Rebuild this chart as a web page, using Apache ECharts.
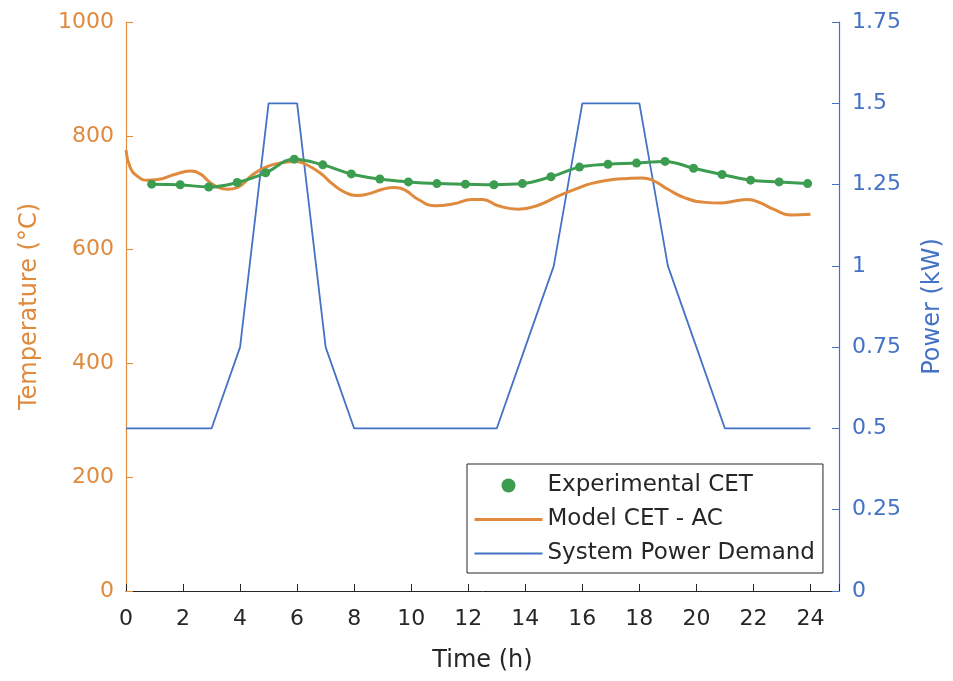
<!DOCTYPE html>
<html>
<head>
<meta charset="utf-8">
<script src="https://cdn.jsdelivr.net/npm/echarts@6/dist/echarts.min.js"></script>
<style>
html,body{margin:0;padding:0;background:#fff;}
#chart{width:953px;height:681px;}
</style>
</head>
<body>
<div id="chart"></div>
<script>
// Experimental CET (°C) sampled hourly
const expTime = [0.9,1.9,2.9,3.9,4.9,5.9,6.9,7.9,8.9,9.9,10.9,11.9,12.9,13.9,14.9,15.9,16.9,17.9,18.9,19.9,20.9,21.9,22.9,23.9];
const expTemp = [715,714,710,718,735,759,749,733,724,719,716,715,714,716,728,745,750,752,755,743,732,722,719,716];

// Model CET - AC (°C)
const modelTime = [0,0.15,0.4,0.75,1.1,1.7,2.25,2.6,2.9,3.2,3.55,3.9,4.45,4.9,5.5,5.95,6.3,6.8,7.25,7.7,8.1,8.5,9.0,9.4,9.8,10.25,10.85,11.45,12.15,12.5,13.05,13.75,14.45,15.15,15.85,16.3,16.9,17.6,18.1,18.5,19.0,19.6,20.3,20.85,21.3,21.8,22.25,22.7,23.3,24.0];
const modelTemp = [775,744,729,722,723,732,738,733,720,710,706,709,732,745,753,755,750,735,715,700,695,698,706,709,704,688,677,680,688,688,677,671,678,694,708,716,722,725,726,721,706,691,683,682,685,688,682,671,661,662];

// System power demand (kW)
const powerTime = [0,1,2,3,4,5,6,7,8,9,10,11,12,13,14,15,16,17,18,19,20,21,22,23,24];
const powerKW   = [0.5,0.5,0.5,0.5,0.75,1.5,1.5,0.75,0.5,0.5,0.5,0.5,0.5,0.5,0.75,1.0,1.5,1.5,1.5,1.0,0.75,0.5,0.5,0.5,0.5];

const seriesNames = ['Experimental CET','Model CET - AC','System Power Demand'];

const ORANGE = '#E08A3E';
const BLUE = '#4472C4';
const GREEN = '#3C9C4F';
const DARK = '#262626';
const FONT = 'DejaVu Sans';

const zip = (a,b) => a.map((v,i)=>[v,b[i]]);

const chart = echarts.init(document.getElementById('chart'), null, {renderer:'canvas'});
chart.setOption({
  animation:false,
  backgroundColor:'#fff',
  textStyle:{fontFamily:FONT},
  grid:{left:126,right:114,top:22,bottom:90,containLabel:false},
  legend:{
    orient:'vertical',
    left:467, top:464,
    backgroundColor:'#fff',
    borderColor:DARK, borderWidth:1,
    padding:[10,8,8,6],
    itemGap:11,
    itemWidth:68, itemHeight:14,
    textStyle:{fontSize:23,color:DARK,fontFamily:FONT},
    data:[
      {name:seriesNames[0], icon:'circle', lineStyle:{opacity:0}},
      {name:seriesNames[1], itemStyle:{opacity:0}, lineStyle:{width:3}},
      {name:seriesNames[2], itemStyle:{opacity:0}, lineStyle:{width:1.8}}
    ]
  },
  xAxis:{
    type:'value', min:0, max:25, interval:2,
    name:'Time (h)', nameLocation:'middle', nameGap:58,
    nameTextStyle:{fontSize:24,color:DARK,fontFamily:FONT},
    axisLine:{show:true,lineStyle:{color:DARK,width:1}},
    axisTick:{show:true,inside:true,length:7,lineStyle:{color:DARK}},
    axisLabel:{fontSize:22,color:DARK,margin:17,fontFamily:FONT,
      formatter:(v)=> v===25 ? '' : String(v)},
    splitLine:{show:false}
  },
  yAxis:[
    {
      type:'value', min:0, max:1000, interval:200, position:'left',
      name:'Temperature (°C)', nameLocation:'middle', nameGap:84, nameRotate:90,
      nameTextStyle:{fontSize:24,color:ORANGE,fontFamily:FONT},
      axisLine:{show:true,lineStyle:{color:ORANGE,width:1.2}},
      axisTick:{show:true,inside:true,length:7,lineStyle:{color:ORANGE}},
      axisLabel:{fontSize:22,color:ORANGE,margin:12,fontFamily:FONT,
        formatter:(v)=> String(v)},
      splitLine:{show:false}
    },
    {
      type:'value', min:0, max:1.75, interval:0.25, position:'right',
      name:'Power (kW)', nameLocation:'middle', nameGap:82, nameRotate:90,
      nameTextStyle:{fontSize:24,color:BLUE,fontFamily:FONT},
      axisLine:{show:true,lineStyle:{color:BLUE,width:1.2}},
      axisTick:{show:true,inside:true,length:7,lineStyle:{color:BLUE}},
      axisLabel:{fontSize:22,color:BLUE,margin:13,fontFamily:FONT,
        formatter:(v)=> String(parseFloat(v.toFixed(2)))},
      splitLine:{show:false}
    }
  ],
  series:[
    {
      name:seriesNames[2], type:'line', yAxisIndex:1,
      data:zip(powerTime,powerKW),
      showSymbol:false, symbol:'none', smooth:false,
      lineStyle:{color:BLUE,width:1.8},
      itemStyle:{color:BLUE},
      z:2
    },
    {
      name:seriesNames[1], type:'line', yAxisIndex:0,
      data:zip(modelTime,modelTemp),
      showSymbol:false, symbol:'none', smooth:0.5,
      lineStyle:{color:ORANGE,width:3},
      itemStyle:{color:ORANGE},
      z:3
    },
    {
      name:seriesNames[0], type:'line', yAxisIndex:0,
      data:zip(expTime,expTemp),
      symbol:'circle', symbolSize:9, showSymbol:true, smooth:0.4,
      lineStyle:{color:GREEN,width:3},
      itemStyle:{color:GREEN},
      z:4
    }
  ]
});
</script>
</body>
</html>
